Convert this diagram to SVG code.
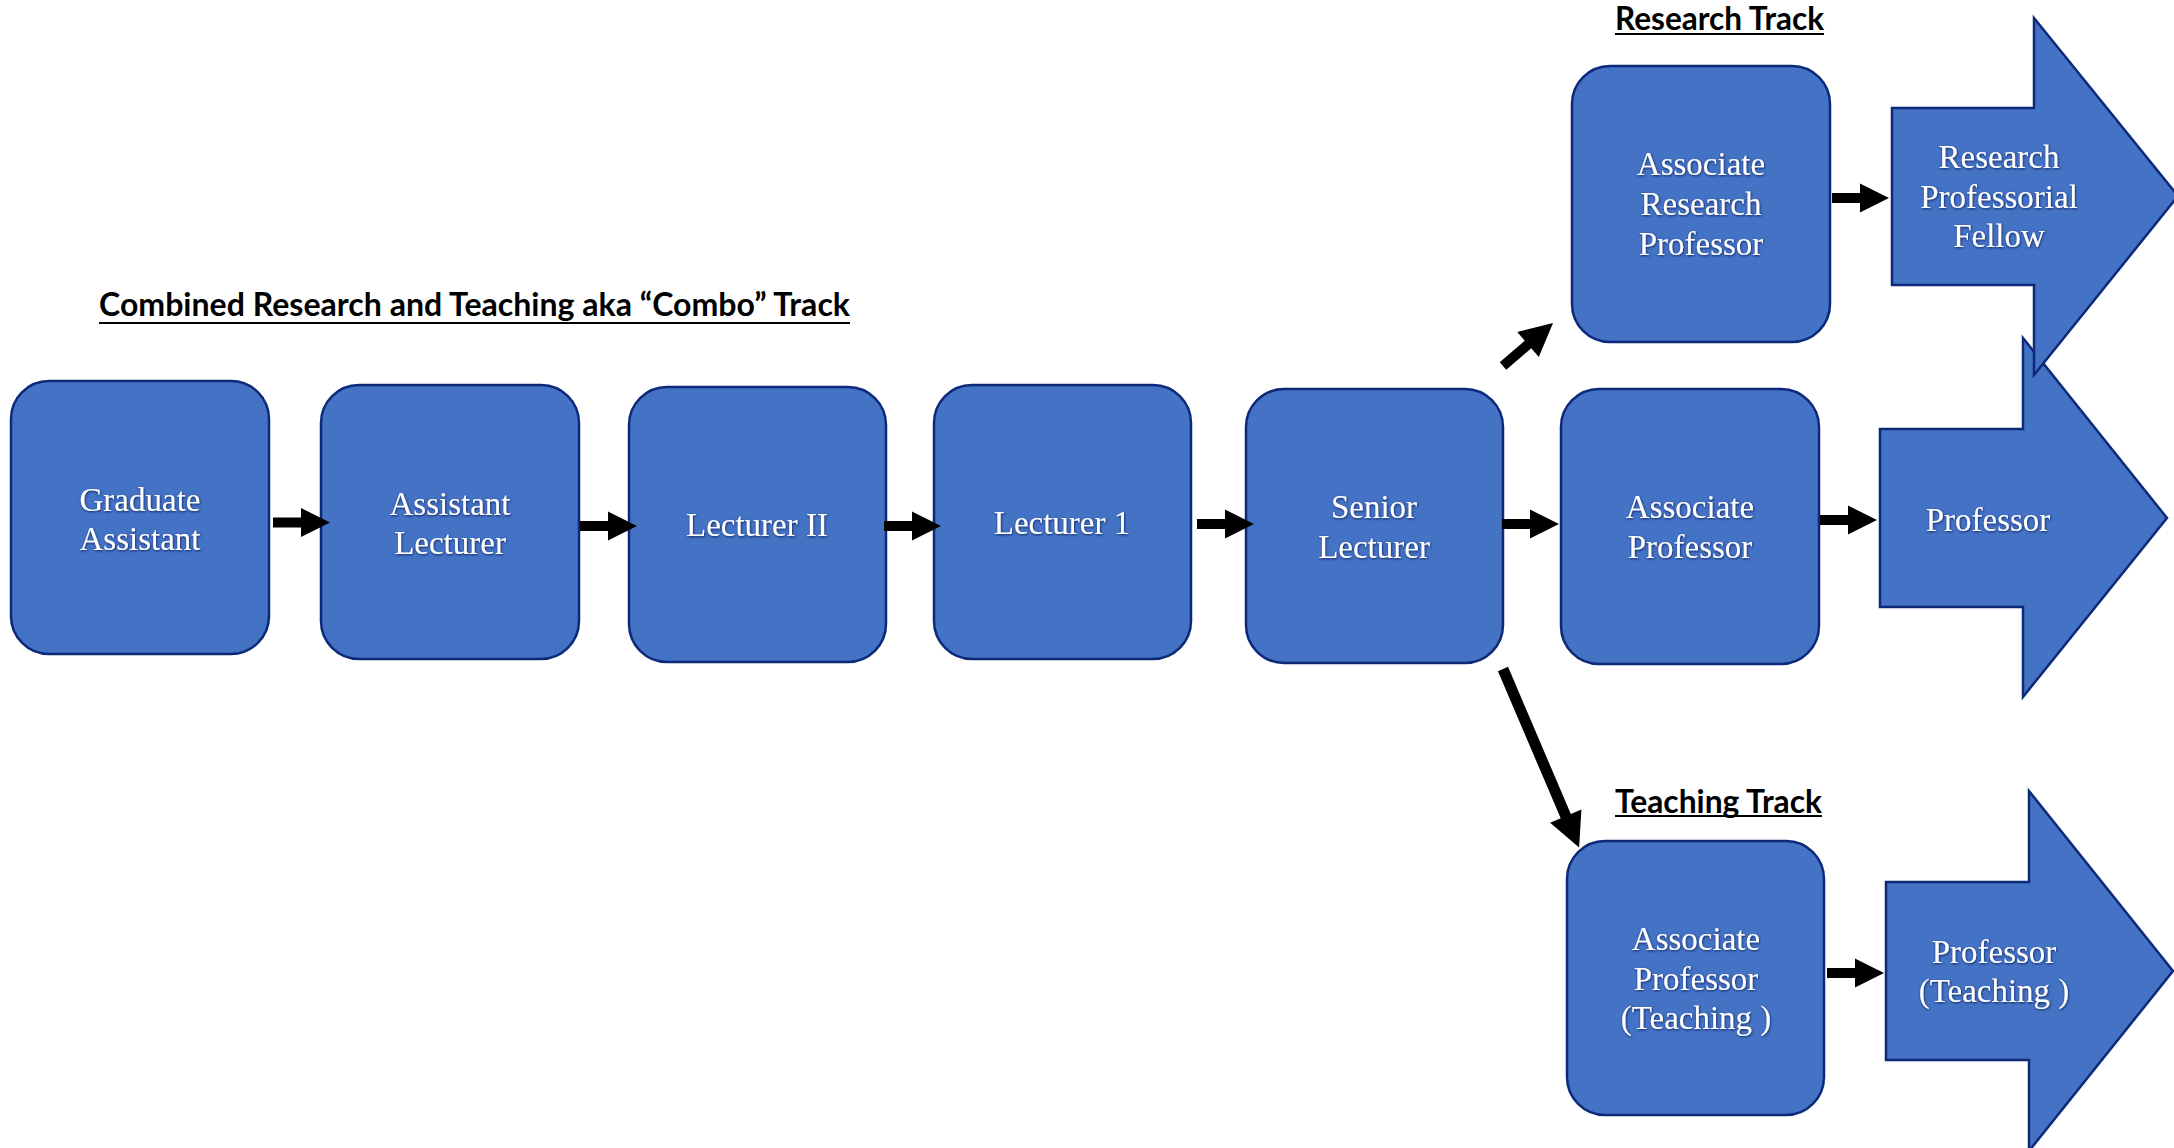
<svg xmlns="http://www.w3.org/2000/svg" xmlns:xlink="http://www.w3.org/1999/xlink" width="2174" height="1148" viewBox="0 0 2174 1148">
  <style>
    .node { fill: #4472C4; stroke: #0D2A7A; stroke-width: 2.5; }
    .lbl { font-family: "Liberation Serif", "Times New Roman", serif; font-size: 33px; fill: #FFFFFF; text-anchor: middle; filter: url(#glow); }
    .title { font-family: Lato, "Open Sans", "Liberation Sans", sans-serif; font-weight: bold; font-size: 32px; fill: #000000; }
    .ul { stroke: #000000; stroke-width: 2.2; }
    .conn { fill: #000000; }
  </style>
  <defs>
    <filter id="glow" x="-10%" y="-30%" width="120%" height="160%">
      <feDropShadow dx="0.6" dy="1" stdDeviation="1.1" flood-color="#0A1F5C" flood-opacity="0.95"/>
    </filter>
    <path id="blk" d="M0,-5 H28 V-14.5 L57,0 L28,14.5 V5 H0 Z"/>
  </defs>
  <rect width="2174" height="1148" fill="#FFFFFF"/>

  <!-- titles -->
  <text class="title" x="99" y="316" textLength="751" lengthAdjust="spacingAndGlyphs">Combined Research and Teaching aka “Combo” Track</text>
  <line class="ul" x1="99" y1="323" x2="850" y2="323"/>
  <text class="title" x="1615" y="30" textLength="209" lengthAdjust="spacingAndGlyphs">Research Track</text>
  <line class="ul" x1="1615" y1="34" x2="1824" y2="34"/>
  <text class="title" x="1615" y="813" textLength="207" lengthAdjust="spacingAndGlyphs">Teaching Track</text>
  <line class="ul" x1="1615" y1="816" x2="1822" y2="816"/>

  <!-- block arrow nodes -->
  <g id="professor">
    <path class="node" d="M1880,429 H2023 V338 L2167,518 L2023,697 V607 H1880 Z"/>
    <text class="lbl" x="1988" y="531">Professor</text>
  </g>
  <g id="research-professorial-fellow">
    <path class="node" d="M1892,108 H2034 V18 L2178,196 L2034,375 V285 H1892 Z"/>
    <text class="lbl" x="1999" y="168">Research</text>
    <text class="lbl" x="1999" y="208">Professorial</text>
    <text class="lbl" x="1999" y="247">Fellow</text>
  </g>
  <g id="professor-teaching">
    <path class="node" d="M1886,882 H2029 V791 L2173,971 L2029,1151 V1060 H1886 Z"/>
    <text class="lbl" x="1994" y="963">Professor</text>
    <text class="lbl" x="1994" y="1002">(Teaching )</text>
  </g>

  <!-- rounded nodes -->
  <g id="graduate-assistant">
    <rect class="node" x="11" y="381" width="258" height="273" rx="38"/>
    <text class="lbl" x="140" y="511">Graduate</text>
    <text class="lbl" x="140" y="550">Assistant</text>
  </g>
  <g id="assistant-lecturer">
    <rect class="node" x="321" y="385" width="258" height="274" rx="38"/>
    <text class="lbl" x="450" y="515">Assistant</text>
    <text class="lbl" x="450" y="554">Lecturer</text>
  </g>
  <g id="lecturer-ii">
    <rect class="node" x="629" y="387" width="257" height="275" rx="38"/>
    <text class="lbl" x="757" y="536">Lecturer II</text>
  </g>
  <g id="lecturer-1">
    <rect class="node" x="934" y="385" width="257" height="274" rx="38"/>
    <text class="lbl" x="1062" y="534">Lecturer 1</text>
  </g>
  <g id="senior-lecturer">
    <rect class="node" x="1246" y="389" width="257" height="274" rx="38"/>
    <text class="lbl" x="1374" y="518">Senior</text>
    <text class="lbl" x="1374" y="558">Lecturer</text>
  </g>
  <g id="associate-professor">
    <rect class="node" x="1561" y="389" width="258" height="275" rx="38"/>
    <text class="lbl" x="1690" y="518">Associate</text>
    <text class="lbl" x="1690" y="558">Professor</text>
  </g>
  <g id="associate-research-professor">
    <rect class="node" x="1572" y="66" width="258" height="276" rx="38"/>
    <text class="lbl" x="1701" y="175">Associate</text>
    <text class="lbl" x="1701" y="215">Research</text>
    <text class="lbl" x="1701" y="255">Professor</text>
  </g>
  <g id="associate-professor-teaching">
    <rect class="node" x="1567" y="841" width="257" height="274" rx="38"/>
    <text class="lbl" x="1696" y="950">Associate</text>
    <text class="lbl" x="1696" y="990">Professor</text>
    <text class="lbl" x="1696" y="1029">(Teaching )</text>
  </g>

  <!-- connectors -->
  <g id="connectors" class="conn">
    <use xlink:href="#blk" href="#blk" transform="translate(273,522.5)"/>
    <use xlink:href="#blk" href="#blk" transform="translate(580,526)"/>
    <use xlink:href="#blk" href="#blk" transform="translate(884,526)"/>
    <use xlink:href="#blk" href="#blk" transform="translate(1197,524)"/>
    <use xlink:href="#blk" href="#blk" transform="translate(1502,524)"/>
    <use xlink:href="#blk" href="#blk" transform="translate(1820,520)"/>
    <use xlink:href="#blk" href="#blk" transform="translate(1832,198)"/>
    <use xlink:href="#blk" href="#blk" transform="translate(1827,973)"/>
    <path d="M0,-5 H33 V-16.5 L66,0 L33,16.5 V5 H0 Z" transform="translate(1503,366) rotate(-40.7)"/>
    <path d="M0,-5.5 H160 V-17 L194,0 L160,17 V5.5 H0 Z" transform="translate(1503,669) rotate(66.9)"/>
  </g>
</svg>
